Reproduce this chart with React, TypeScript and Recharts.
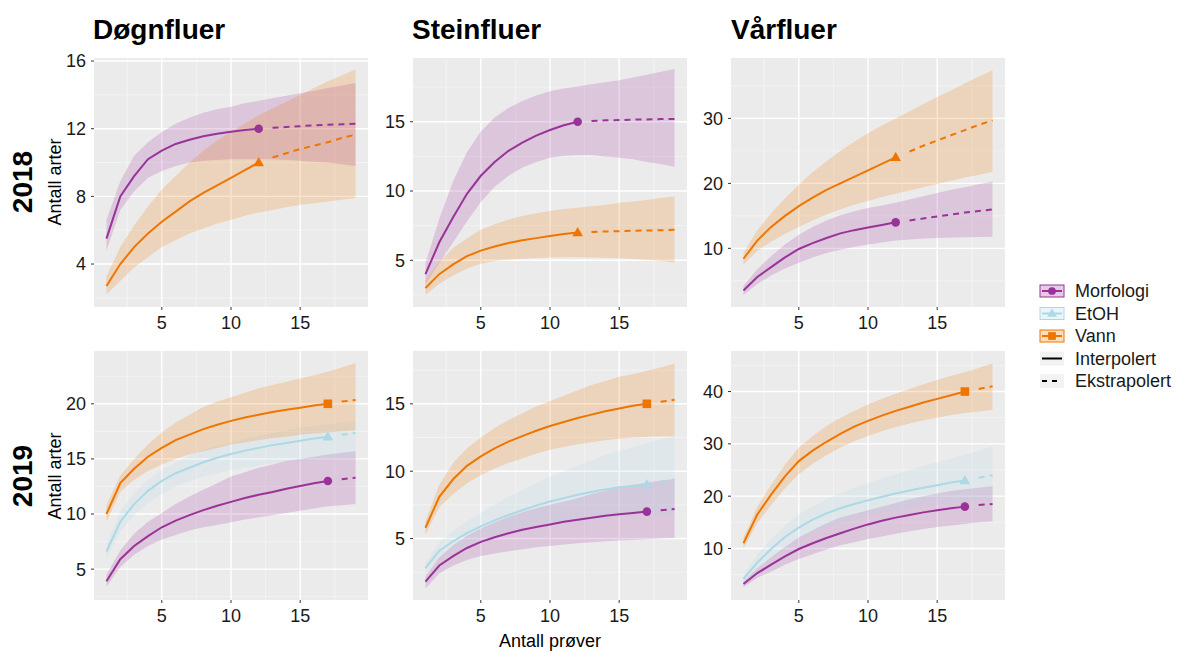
import React from "react";
import { Area, CartesianGrid, ComposedChart, Line, XAxis, YAxis } from "recharts";

// number of samples (x) shared by all panels
const samples = [1, 2, 3, 4, 5, 6, 7, 8, 9, 10, 11, 12, 13, 14, 15, 16, 17, 18, 19];

// Døgnfluer 2018 (observed at 12 samples)
const dogn18Morf = [5.5, 8.0, 9.2, 10.2, 10.7, 11.1, 11.35, 11.55, 11.7, 11.82, 11.92, 12.0, 12.05, 12.1, 12.15, 12.2, 12.23, 12.26, 12.3];
const dogn18MorfLo = [4.8, 7.2, 8.3, 9.1, 9.5, 9.8, 10.0, 10.1, 10.15, 10.2, 10.2, 10.2, 10.2, 10.15, 10.1, 10.05, 10.0, 9.9, 9.8];
const dogn18MorfHi = [6.6, 8.9, 10.4, 11.2, 11.8, 12.3, 12.65, 12.95, 13.15, 13.3, 13.5, 13.65, 13.8, 13.95, 14.1, 14.25, 14.4, 14.55, 14.7];
const dogn18Vann = [2.7, 4.0, 5.0, 5.8, 6.5, 7.1, 7.7, 8.2, 8.65, 9.1, 9.55, 10.0, 10.3, 10.55, 10.8, 11.0, 11.2, 11.45, 11.65];
const dogn18VannLo = [2.2, 3.0, 3.8, 4.4, 5.0, 5.4, 5.8, 6.1, 6.4, 6.6, 6.85, 7.05, 7.2, 7.35, 7.5, 7.6, 7.7, 7.8, 7.9];
const dogn18VannHi = [3.3, 5.0, 6.3, 7.4, 8.4, 9.2, 10.0, 10.7, 11.3, 11.8, 12.3, 12.8, 13.2, 13.6, 14.0, 14.4, 14.8, 15.15, 15.5];

// Steinfluer 2018
const stein18Morf = [4.0, 6.3, 8.1, 9.8, 11.1, 12.1, 12.9, 13.5, 14.0, 14.4, 14.75, 15.0, 15.05, 15.1, 15.12, 15.15, 15.17, 15.19, 15.2];
const stein18MorfLo = [3.3, 4.8, 6.3, 7.8, 9.2, 10.3, 11.1, 11.7, 12.1, 12.4, 12.55, 12.6, 12.6, 12.5, 12.4, 12.3, 12.1, 11.95, 11.75];
const stein18MorfHi = [4.8, 8.0, 10.7, 12.8, 14.3, 15.3, 16.0, 16.5, 16.9, 17.2, 17.4, 17.55, 17.7, 17.85, 18.0, 18.2, 18.4, 18.6, 18.8];
const stein18Vann = [3.0, 4.0, 4.7, 5.3, 5.7, 6.0, 6.25, 6.45, 6.6, 6.75, 6.9, 7.0, 7.05, 7.08, 7.1, 7.13, 7.15, 7.17, 7.2];
const stein18VannLo = [2.5, 3.3, 3.9, 4.4, 4.75, 4.95, 5.05, 5.12, 5.17, 5.2, 5.22, 5.22, 5.2, 5.18, 5.15, 5.1, 5.03, 4.95, 4.85];
const stein18VannHi = [3.5, 4.9, 5.9, 6.6, 7.2, 7.6, 7.95, 8.2, 8.4, 8.55, 8.7, 8.8, 8.9, 9.0, 9.15, 9.25, 9.35, 9.5, 9.6];

// Vårfluer 2018
const var18Morf = [3.5, 5.6, 7.1, 8.6, 9.9, 10.8, 11.6, 12.3, 12.8, 13.2, 13.6, 14.0, 14.3, 14.6, 14.9, 15.2, 15.5, 15.75, 16.0];
const var18MorfLo = [2.8, 4.5, 5.8, 6.9, 7.8, 8.6, 9.3, 9.8, 10.2, 10.6, 10.9, 11.2, 11.35, 11.5, 11.6, 11.65, 11.7, 11.75, 11.8];
const var18MorfHi = [4.2, 6.8, 8.8, 10.6, 12.1, 13.3, 14.3, 15.1, 15.7, 16.2, 16.6, 17.0, 17.5, 18.0, 18.5, 19.0, 19.4, 19.85, 20.3];
const var18Vann = [8.4, 11.2, 13.3, 15.0, 16.5, 17.8, 19.0, 20.0, 21.0, 22.0, 23.0, 24.0, 24.9, 25.8, 26.6, 27.4, 28.2, 29.0, 29.7];
const var18VannLo = [7.5, 9.6, 11.0, 12.2, 13.3, 14.3, 15.2, 16.0, 16.7, 17.3, 17.9, 18.4, 18.9, 19.4, 19.9, 20.4, 20.9, 21.3, 21.8];
const var18VannHi = [9.3, 12.8, 15.4, 17.7, 19.8, 21.7, 23.4, 25.0, 26.4, 27.7, 28.9, 30.0, 31.1, 32.2, 33.3, 34.3, 35.4, 36.4, 37.4];

// Døgnfluer 2019 (observed at 17 samples)
const dogn19Morf = [3.9, 5.9, 7.1, 8.0, 8.8, 9.4, 9.9, 10.35, 10.75, 11.1, 11.45, 11.75, 12.0, 12.3, 12.55, 12.8, 13.0, 13.15, 13.3];
const dogn19MorfLo = [3.4, 5.2, 6.3, 7.1, 7.7, 8.1, 8.5, 8.8, 9.0, 9.25, 9.5, 9.7, 9.9, 10.1, 10.3, 10.5, 10.7, 10.8, 10.9];
const dogn19MorfHi = [4.5, 6.7, 8.2, 9.3, 10.1, 10.9, 11.6, 12.2, 12.8, 13.4, 13.8, 14.2, 14.5, 14.8, 15.0, 15.2, 15.4, 15.55, 15.7];
const dogn19Etoh = [6.6, 9.3, 10.9, 12.1, 13.0, 13.7, 14.2, 14.7, 15.1, 15.45, 15.75, 16.0, 16.25, 16.45, 16.65, 16.85, 17.0, 17.2, 17.35];
const dogn19EtohLo = [6.0, 8.4, 9.9, 11.0, 11.8, 12.5, 13.0, 13.4, 13.7, 14.0, 14.2, 14.4, 14.6, 14.7, 14.8, 14.9, 15.0, 15.0, 15.0];
const dogn19EtohHi = [7.2, 10.2, 11.9, 13.1, 14.0, 14.7, 15.3, 15.8, 16.2, 16.5, 16.8, 17.1, 17.35, 17.6, 17.8, 18.0, 18.15, 18.3, 18.45];
const dogn19Vann = [10.0, 12.8, 14.1, 15.2, 16.0, 16.7, 17.2, 17.7, 18.1, 18.45, 18.75, 19.0, 19.25, 19.45, 19.65, 19.85, 20.0, 20.2, 20.35];
const dogn19VannLo = [9.3, 12.0, 13.1, 13.9, 14.5, 15.0, 15.4, 15.7, 16.0, 16.3, 16.5, 16.7, 16.9, 17.0, 17.2, 17.3, 17.4, 17.5, 17.6];
const dogn19VannHi = [10.8, 13.5, 15.0, 16.3, 17.4, 18.3, 19.0, 19.7, 20.2, 20.6, 21.0, 21.4, 21.7, 22.0, 22.3, 22.6, 22.9, 23.3, 23.7];

// Steinfluer 2019
const stein19Morf = [1.8, 3.0, 3.7, 4.3, 4.75, 5.1, 5.4, 5.65, 5.85, 6.05, 6.25, 6.4, 6.55, 6.7, 6.8, 6.9, 7.0, 7.1, 7.2];
const stein19MorfLo = [1.3, 2.4, 3.0, 3.4, 3.7, 3.9, 4.05, 4.2, 4.35, 4.45, 4.55, 4.65, 4.72, 4.8, 4.85, 4.9, 4.95, 5.0, 5.05];
const stein19MorfHi = [2.2, 3.6, 4.5, 5.2, 5.75, 6.2, 6.6, 6.95, 7.25, 7.5, 7.75, 8.0, 8.3, 8.55, 8.8, 9.0, 9.15, 9.3, 9.4];
const stein19Etoh = [2.8, 4.1, 4.8, 5.4, 5.9, 6.35, 6.75, 7.1, 7.45, 7.75, 8.0, 8.25, 8.45, 8.65, 8.8, 8.9, 9.0, 9.2, 9.4];
const stein19EtohLo = [2.4, 3.4, 4.1, 4.6, 5.0, 5.3, 5.6, 5.8, 6.0, 6.2, 6.3, 6.4, 6.5, 6.55, 6.6, 6.65, 6.7, 6.7, 6.7];
const stein19EtohHi = [3.2, 4.7, 5.6, 6.3, 6.9, 7.5, 8.1, 8.6, 9.1, 9.6, 10.0, 10.4, 10.8, 11.2, 11.5, 11.8, 12.1, 12.35, 12.6];
const stein19Vann = [5.8, 8.1, 9.4, 10.4, 11.1, 11.7, 12.2, 12.6, 13.0, 13.35, 13.65, 13.95, 14.2, 14.45, 14.65, 14.85, 15.0, 15.15, 15.3];
const stein19VannLo = [5.3, 7.3, 8.3, 9.1, 9.7, 10.2, 10.6, 10.95, 11.3, 11.6, 11.8, 12.0, 12.15, 12.3, 12.4, 12.5, 12.55, 12.6, 12.6];
const stein19VannHi = [6.3, 9.0, 10.6, 11.7, 12.5, 13.2, 13.8, 14.3, 14.8, 15.2, 15.6, 16.0, 16.4, 16.7, 17.0, 17.2, 17.45, 17.7, 18.0];

// Vårfluer 2019
const var19Morf = [3.2, 5.3, 6.9, 8.5, 9.9, 11.0, 12.0, 12.9, 13.8, 14.6, 15.3, 15.9, 16.4, 16.9, 17.3, 17.7, 18.0, 18.3, 18.5];
const var19MorfLo = [2.6, 4.4, 5.6, 6.9, 8.0, 8.9, 9.8, 10.6, 11.2, 11.8, 12.3, 12.8, 13.3, 13.7, 14.1, 14.4, 14.7, 15.0, 15.2];
const var19MorfHi = [3.7, 6.2, 8.3, 10.3, 12.1, 13.5, 14.8, 15.9, 16.6, 17.3, 18.0, 18.7, 19.4, 20.0, 20.5, 21.0, 21.3, 21.6, 21.9];
const var19Etoh = [4.2, 7.3, 9.9, 12.2, 14.0, 15.5, 16.7, 17.7, 18.5, 19.2, 19.9, 20.5, 21.1, 21.6, 22.1, 22.6, 23.0, 23.5, 24.0];
const var19EtohLo = [3.6, 6.0, 8.1, 10.0, 11.6, 12.9, 13.9, 14.8, 15.5, 16.1, 16.7, 17.2, 17.6, 18.0, 18.4, 18.7, 19.0, 19.2, 19.4];
const var19EtohHi = [4.8, 8.8, 11.8, 14.4, 16.5, 18.0, 19.4, 20.6, 21.6, 22.5, 23.4, 24.2, 25.0, 25.8, 26.5, 27.2, 27.9, 28.7, 29.5];
const var19Vann = [11.0, 16.5, 20.3, 23.8, 26.7, 28.7, 30.4, 31.9, 33.3, 34.4, 35.4, 36.3, 37.1, 37.9, 38.6, 39.3, 40.0, 40.5, 41.0];
const var19VannLo = [10.0, 14.8, 18.3, 21.5, 24.2, 26.2, 27.8, 29.3, 30.5, 31.5, 32.4, 33.2, 33.9, 34.5, 35.0, 35.5, 35.9, 36.2, 36.5];
const var19VannHi = [12.0, 18.0, 22.2, 26.0, 29.3, 31.5, 33.4, 35.0, 36.3, 37.5, 38.6, 39.6, 40.5, 41.4, 42.2, 43.0, 43.7, 44.5, 45.4];

const xTicks = [5, 10, 15];
const xMinor = [2.5, 7.5, 12.5, 17.5];

const PURPLE = "#993399";
const BLUE = "#ADD8E6";
const ORANGE = "#EE7600";
const FONT = "'Liberation Sans', Arial, sans-serif";

type Shape = "circle" | "triangle" | "square";
type Series = { key: string; color: string; shape: Shape; mean: number[]; lo: number[]; hi: number[] };
type Panel = {
  left: number;
  top: number;
  observed: number;
  yDomain: [number, number];
  yTicks: number[];
  yMinor: number[];
  series: Series[];
};

const PLOT_W = 274;
const PLOT_H = 249;
const Y_AXIS_W = 44;
const X_AXIS_H = 32;
const PAD = 12; // room above/right of each plot so edge tick labels are not clipped

const panels: Panel[] = [
  {
    left: 94, top: 58, observed: 12, yDomain: [1.46, 16.18], yTicks: [4, 8, 12, 16], yMinor: [2, 6, 10, 14],
    series: [
      { key: "morf", color: PURPLE, shape: "circle", mean: dogn18Morf, lo: dogn18MorfLo, hi: dogn18MorfHi },
      { key: "vann", color: ORANGE, shape: "triangle", mean: dogn18Vann, lo: dogn18VannLo, hi: dogn18VannHi },
    ],
  },
  {
    left: 413, top: 58, observed: 12, yDomain: [1.63, 19.6], yTicks: [5, 10, 15], yMinor: [2.5, 7.5, 12.5, 17.5],
    series: [
      { key: "morf", color: PURPLE, shape: "circle", mean: stein18Morf, lo: stein18MorfLo, hi: stein18MorfHi },
      { key: "vann", color: ORANGE, shape: "triangle", mean: stein18Vann, lo: stein18VannLo, hi: stein18VannHi },
    ],
  },
  {
    left: 731, top: 58, observed: 12, yDomain: [0.97, 39.3], yTicks: [10, 20, 30], yMinor: [5, 15, 25, 35],
    series: [
      { key: "morf", color: PURPLE, shape: "circle", mean: var18Morf, lo: var18MorfLo, hi: var18MorfHi },
      { key: "vann", color: ORANGE, shape: "triangle", mean: var18Vann, lo: var18VannLo, hi: var18VannHi },
    ],
  },
  {
    left: 94, top: 351, observed: 17, yDomain: [2.2, 24.79], yTicks: [5, 10, 15, 20], yMinor: [2.5, 7.5, 12.5, 17.5, 22.5],
    series: [
      { key: "morf", color: PURPLE, shape: "circle", mean: dogn19Morf, lo: dogn19MorfLo, hi: dogn19MorfHi },
      { key: "etoh", color: BLUE, shape: "triangle", mean: dogn19Etoh, lo: dogn19EtohLo, hi: dogn19EtohHi },
      { key: "vann", color: ORANGE, shape: "square", mean: dogn19Vann, lo: dogn19VannLo, hi: dogn19VannHi },
    ],
  },
  {
    left: 413, top: 351, observed: 17, yDomain: [0.44, 18.92], yTicks: [5, 10, 15], yMinor: [2.5, 7.5, 12.5, 17.5],
    series: [
      { key: "morf", color: PURPLE, shape: "circle", mean: stein19Morf, lo: stein19MorfLo, hi: stein19MorfHi },
      { key: "etoh", color: BLUE, shape: "triangle", mean: stein19Etoh, lo: stein19EtohLo, hi: stein19EtohHi },
      { key: "vann", color: ORANGE, shape: "square", mean: stein19Vann, lo: stein19VannLo, hi: stein19VannHi },
    ],
  },
  {
    left: 731, top: 351, observed: 17, yDomain: [0.15, 47.75], yTicks: [10, 20, 30, 40], yMinor: [5, 15, 25, 35, 45],
    series: [
      { key: "morf", color: PURPLE, shape: "circle", mean: var19Morf, lo: var19MorfLo, hi: var19MorfHi },
      { key: "etoh", color: BLUE, shape: "triangle", mean: var19Etoh, lo: var19EtohLo, hi: var19EtohHi },
      { key: "vann", color: ORANGE, shape: "square", mean: var19Vann, lo: var19VannLo, hi: var19VannHi },
    ],
  },
];

function marker(shape: Shape, cx: number, cy: number, color: string, size = 1) {
  if (shape === "circle") return <circle cx={cx} cy={cy} r={4.3 * size} fill={color} />;
  if (shape === "square") {
    const h = 4.3 * size;
    return <rect x={cx - h} y={cy - h} width={h * 2} height={h * 2} fill={color} />;
  }
  const w = 5.3 * size;
  return <polygon points={`${cx},${cy - w * 1.05} ${cx - w},${cy + w * 0.7} ${cx + w},${cy + w * 0.7}`} fill={color} />;
}

function buildRows(p: Panel) {
  return samples.map((m, i) => {
    const row: Record<string, number | null> = { m };
    p.series.forEach((s) => {
      row[s.key] = s.mean[i];
      row[`${s.key}Lo`] = s.lo[i];
      row[`${s.key}Hi`] = s.hi[i];
      row[`${s.key}Int`] = m <= p.observed ? s.mean[i] : null;
      row[`${s.key}Ext`] = m > p.observed ? s.mean[i] : null;
    });
    return row;
  });
}

const tickStyle = { fontSize: 18, fill: "#1a1a1a", fontFamily: FONT };

function FacetPanel({ p }: { p: Panel }) {
  const rows = buildRows(p);
  return (
    <div style={{ position: "absolute", left: p.left - Y_AXIS_W, top: p.top - PAD }}>
      <ComposedChart
        width={PLOT_W + Y_AXIS_W + PAD}
        height={PLOT_H + X_AXIS_H + PAD}
        data={rows}
        margin={{ top: PAD, right: PAD, bottom: 0, left: 0 }}
      >
        <CartesianGrid fill="#EBEBEB" stroke="#F7F7F7" strokeWidth={0.7} horizontalValues={p.yMinor} verticalValues={xMinor} />
        <CartesianGrid stroke="#FFFFFF" strokeWidth={1.4} horizontalValues={p.yTicks} verticalValues={xTicks} />
        <XAxis
          dataKey="m"
          type="number"
          domain={[0.1, 19.9]}
          allowDataOverflow
          ticks={xTicks}
          height={X_AXIS_H}
          axisLine={false}
          tickLine={{ stroke: "#333333" }}
          tickSize={3}
          tickMargin={6}
          tick={tickStyle}
        />
        <YAxis
          type="number"
          domain={p.yDomain}
          allowDataOverflow
          ticks={p.yTicks}
          width={Y_AXIS_W}
          axisLine={false}
          tickLine={{ stroke: "#333333" }}
          tickSize={3}
          tickMargin={5}
          tick={tickStyle}
        />
        {p.series.map((s) => (
          <Line
            key={`${s.key}-int`}
            dataKey={`${s.key}Int`}
            type="linear"
            stroke={s.color}
            strokeWidth={2}
            connectNulls={false}
            isAnimationActive={false}
            activeDot={false}
            dot={(props: any) =>
              props.payload.m === p.observed ? (
                <g key={`dot-${s.key}-${props.index}`}>{marker(s.shape, props.cx, props.cy, s.color)}</g>
              ) : (
                <g key={`dot-${s.key}-${props.index}`} />
              )
            }
          />
        ))}
        {p.series.map((s) => (
          <Line
            key={`${s.key}-ext`}
            dataKey={`${s.key}Ext`}
            type="linear"
            stroke={s.color}
            strokeWidth={2}
            strokeDasharray="6 5"
            connectNulls={false}
            isAnimationActive={false}
            activeDot={false}
            dot={false}
          />
        ))}
        {p.series.map((s) => (
          <Area
            key={`${s.key}-band`}
            dataKey={(d: any) => [d[`${s.key}Lo`], d[`${s.key}Hi`]]}
            type="linear"
            fill={s.color}
            fillOpacity={0.2}
            stroke="none"
            isAnimationActive={false}
            activeDot={false}
          />
        ))}
      </ComposedChart>
    </div>
  );
}

const legendSites = [
  { label: "Morfologi", color: PURPLE, shape: "circle" as Shape },
  { label: "EtOH", color: BLUE, shape: "triangle" as Shape },
  { label: "Vann", color: ORANGE, shape: "square" as Shape },
];
const legendMethods = [
  { label: "Interpolert", dash: undefined },
  { label: "Ekstrapolert", dash: "5 5" },
];

export default function App() {
  const titles = [
    { text: "Døgnfluer", x: 93 },
    { text: "Steinfluer", x: 412 },
    { text: "Vårfluer", x: 731 },
  ];
  const rowLabels = [
    { text: "2018", cy: 182 },
    { text: "2019", cy: 476 },
  ];
  return (
    <div style={{ position: "absolute", left: 0, top: 0, width: 1178, height: 652, background: "#FFFFFF", fontFamily: FONT }}>
      <svg width={1178} height={652} style={{ position: "absolute", left: 0, top: 0 }}>
        {titles.map((t) => (
          <text key={t.text} x={t.x} y={39} fontSize={28} fontWeight="bold" fill="#000">
            {t.text}
          </text>
        ))}
        {rowLabels.map((r) => (
          <g key={r.text}>
            <text x={32} y={r.cy} transform={`rotate(-90 32 ${r.cy})`} textAnchor="middle" fontSize={28} fontWeight="bold" fill="#000">
              {r.text}
            </text>
            <text x={61} y={r.cy} transform={`rotate(-90 61 ${r.cy})`} textAnchor="middle" fontSize={18} fill="#000">
              Antall arter
            </text>
          </g>
        ))}
        <text x={550} y={647} textAnchor="middle" fontSize={18} fill="#000">
          Antall prøver
        </text>
        {legendSites.map((l, i) => {
          const cy = 291 + i * 22.5;
          return (
            <g key={l.label}>
              <rect x={1040} y={cy - 6} width={24} height={12} fill={l.color} fillOpacity={0.25} stroke={l.color} strokeWidth={1} />
              <line x1={1042} x2={1062} y1={cy} y2={cy} stroke={l.color} strokeWidth={2} />
              {marker(l.shape, 1052, cy, l.color, 0.9)}
              <text x={1075} y={cy + 6} fontSize={18} fill="#1a1a1a">
                {l.label}
              </text>
            </g>
          );
        })}
        {legendMethods.map((l, i) => {
          const cy = 358.5 + i * 22.5;
          return (
            <g key={l.label}>
              <rect x={1040} y={cy - 7} width={24} height={14} fill="#F2F2F2" />
              <line x1={1042} x2={1062} y1={cy} y2={cy} stroke="#000" strokeWidth={2} strokeDasharray={l.dash} />
              <text x={1075} y={cy + 6} fontSize={18} fill="#1a1a1a">
                {l.label}
              </text>
            </g>
          );
        })}
      </svg>
      {panels.map((p, i) => (
        <FacetPanel key={i} p={p} />
      ))}
    </div>
  );
}
